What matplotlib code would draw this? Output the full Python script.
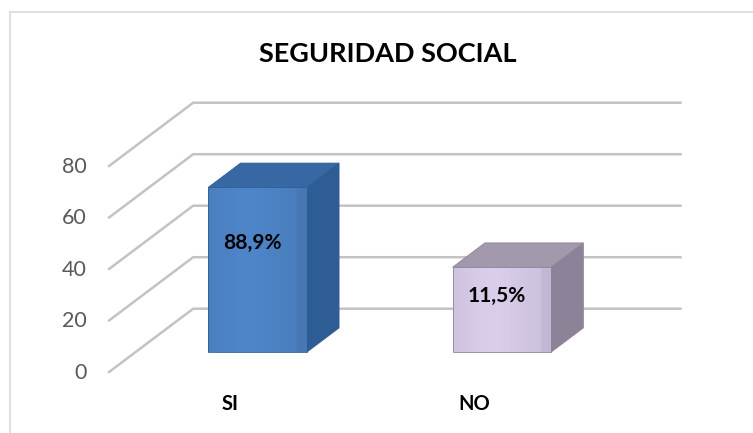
import numpy as np
import matplotlib
matplotlib.use("Agg")
import matplotlib.pyplot as plt
from matplotlib.patches import Polygon
from matplotlib.lines import Line2D
from matplotlib.colors import to_rgb

plt.rcParams["font.family"] = ["Lato", "DejaVu Sans"]

# data
categories = ["SI", "NO"]
values = [64, 33]
value_labels = ["88,9%", "11,5%"]
y_ticks = [0, 20, 40, 60, 80]
title = "SEGURIDAD SOCIAL"

# colours per bar: front, side, top
front_colors = ["#4a7ebe", "#cdc2de"]
side_colors = ["#2e5c94", "#8c8398"]
top_colors = ["#3868a4", "#a299ad"]

# oblique 3D look
DX = 0.348      # depth shift in category units
DY = 24.85      # depth shift in value units
BAR_W = 0.403
D0, D1 = 0.32, 0.70


def proj(x, v, d):
    return (x + d * DX, v + d * DY)


def shaded_face(ax, pts, base, z):
    """Fill a polygon with a soft left-to-right shading of one colour."""
    poly = Polygon(pts, closed=True, facecolor="none", edgecolor="none")
    ax.add_patch(poly)
    xs = [p[0] for p in pts]
    ys = [p[1] for p in pts]
    u = np.linspace(0, 1, 64)
    k = 1.0 + 0.06 * np.exp(-((u - 0.4) / 0.3) ** 2) - 0.05 * (u > 0.9)
    rgb = np.clip(np.outer(k, to_rgb(base)), 0, 1)
    img = rgb[np.newaxis, :, :]
    im = ax.imshow(img, extent=(min(xs), max(xs), min(ys), max(ys)),
                   aspect="auto", interpolation="bilinear", zorder=z)
    im.set_clip_path(poly)


W, H = 753, 433
fig = plt.figure(figsize=(W / 100, H / 100), dpi=100)
ax = fig.add_axes([0, 0, 1, 1])

# outer frame (top and left edges visible)
fig.add_artist(Line2D([10 / W, 1], [1 - 12 / H, 1 - 12 / H], color="#d9d9d9", lw=1.2))
fig.add_artist(Line2D([10 / W, 10 / W], [0, 1 - 12 / H], color="#d9d9d9", lw=1.2))

x_lo, x_hi = -0.5, len(categories) - 0.5

# gridlines: diagonal on the left wall + horizontal on back wall
for t in y_ticks:
    p0 = proj(x_lo, t, 0)
    p1 = proj(x_lo, t, 1)
    p2 = proj(x_hi, t, 1)
    ax.plot([p0[0], p1[0], p2[0]], [p0[1], p1[1], p2[1]],
            color="#c3c3c3", lw=1.8, solid_capstyle="butt", zorder=1)
    ax.text(x_lo - 0.088, p0[1], str(t), ha="right", va="center",
            fontsize=15.5, color="#595959")

# bars
for i, (cat, v) in enumerate(zip(categories, values)):
    xl, xr = i - BAR_W / 2, i + BAR_W / 2
    front = [proj(xl, 0, D0), proj(xr, 0, D0), proj(xr, v, D0), proj(xl, v, D0)]
    side = [proj(xr, 0, D0), proj(xr, 0, D1), proj(xr, v, D1), proj(xr, v, D0)]
    top = [proj(xl, v, D0), proj(xr, v, D0), proj(xr, v, D1), proj(xl, v, D1)]
    ax.add_patch(Polygon(side, closed=True, facecolor=side_colors[i],
                         edgecolor=side_colors[i], lw=0.6, zorder=3))
    ax.add_patch(Polygon(top, closed=True, facecolor=top_colors[i],
                         edgecolor=side_colors[i], lw=0.6, zorder=3))
    shaded_face(ax, front, front_colors[i], 3.5)
    ax.add_patch(Polygon(front, closed=True, facecolor="none",
                         edgecolor=side_colors[i], lw=0.6, zorder=4))
    lx, ly = proj(i - 0.02, v * 0.66, D0)
    ax.text(lx, ly, value_labels[i], ha="center", va="center",
            fontsize=15, fontweight="bold", color="black", zorder=5)
    ax.annotate(cat, xy=(i, 0), xytext=(0, -31), textcoords="offset pixels",
                ha="center", va="center", fontsize=14.5, fontweight="bold")

ax.set_xlim(-230.3 / 244.3, (W - 230.3) / 244.3)
ax.set_ylim(-60.3 / 2.575, (H - 60.3) / 2.575)
ax.axis("off")

fig.text(387.5 / W, 1 - 53.5 / H, title, ha="center", va="center",
         fontsize=19.5, fontweight="bold", color="black")

fig.savefig("out.png", dpi=100)
